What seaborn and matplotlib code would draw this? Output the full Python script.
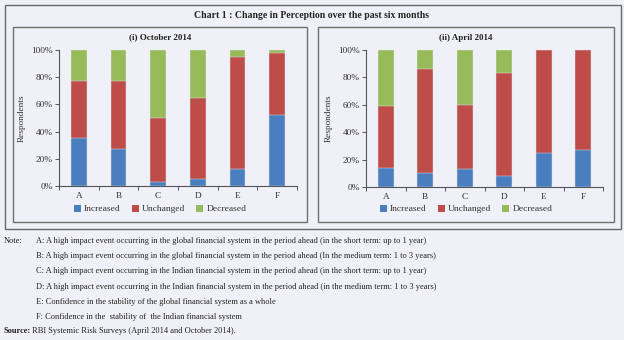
import numpy as np
import pandas as pd
import matplotlib
matplotlib.use("Agg")
import matplotlib.pyplot as plt
import seaborn as sns
from matplotlib.patches import Rectangle, Patch
from matplotlib.ticker import FixedLocator, PercentFormatter

# ---- data ----
categories = ["A", "B", "C", "D", "E", "F"]
oct_increased = [35, 27, 3, 5, 12.5, 52.5]
oct_unchanged = [42, 50, 47, 60, 82.5, 45]
oct_decreased = [23, 23, 50, 35, 5, 2.5]
apr_increased = [14, 10, 13, 8, 25, 27]
apr_unchanged = [45, 76, 47, 75, 75, 73]
apr_decreased = [41, 14, 40, 17, 0, 0]
series_names = ["Increased", "Unchanged", "Decreased"]
panel_titles = ["(i) October 2014", "(ii) April 2014"]
chart_title = "Chart 1 : Change in Perception over the past six months"
notes = [
    "A: A high impact event occurring in the global financial system in the period ahead (in the short term: up to 1 year)",
    "B: A high impact event occurring in the global financial system in the period ahead (In the medium term: 1 to 3 years)",
    "C: A high impact event occurring in the Indian financial system in the period ahead (in the short term: up to 1 year)",
    "D: A high impact event occurring in the Indian financial system in the period ahead (in the medium term: 1 to 3 years)",
    "E: Confidence in the stability of the global financial system as a whole",
    "F: Confidence in the  stability of  the Indian financial system",
]
source_text = "RBI Systemic Risk Surveys (April 2014 and October 2014)."

colors = ["#4a7ebf", "#be4d4a", "#97bb5a"]
BG = "#f0f0f8"
W, H = 624, 340

sns.set_theme(style="white")
plt.rcParams["font.family"] = ["Liberation Serif", "DejaVu Serif"]

fig = plt.figure(figsize=(W / 100, H / 100), dpi=100, facecolor=BG)


def fx(x):
    return x / W


def fy(y):
    return 1 - y / H


def rect_px(x0, y0, x1, y1, ec, lw):
    fig.add_artist(Rectangle((fx(x0), fy(y1)), fx(x1) - fx(x0), fy(y0) - fy(y1),
                             transform=fig.transFigure, fill=False, ec=ec, lw=lw))


# outer frame and panels
rect_px(4.5, 5, 620.5, 229, "#6a6a6a", 1.0)
rect_px(12.5, 27, 307, 222.3, "#707070", 1.0)
rect_px(318, 27, 613.5, 222.3, "#707070", 1.0)

fig.text(fx(312), fy(16), chart_title, ha="center", va="center",
         fontsize=7, fontweight="bold", color="#222222")

panels = [
    dict(inc=oct_increased, unc=oct_unchanged, dec=oct_decreased,
         ax=(59, 50, 297, 186), center=160, title=panel_titles[0]),
    dict(inc=apr_increased, unc=apr_unchanged, dec=apr_decreased,
         ax=(366, 50, 603, 187), center=466, title=panel_titles[1]),
]

for p in panels:
    x0, y0, x1, y1 = p["ax"]
    ax = fig.add_axes([fx(x0), fy(y1), fx(x1) - fx(x0), fy(y0) - fy(y1)])
    ax.set_facecolor(BG)
    inc = np.array(p["inc"], dtype=float)
    unc = np.array(p["unc"], dtype=float)
    dec = np.array(p["dec"], dtype=float)
    df = pd.DataFrame({
        "cat": categories,
        "top": inc + unc + dec,
        "mid": inc + unc,
        "low": inc,
    })
    for col, c in zip(["top", "mid", "low"], colors[::-1]):
        sns.barplot(data=df, x="cat", y=col, color=c, width=0.4, ax=ax,
                    saturation=1, edgecolor="#e8ecf4", linewidth=0.3)
    ax.set_xlim(-0.5, 5.5)
    ax.set_ylim(0, 100)
    ax.set_xlabel("")
    ax.set_ylabel("Respondents", fontsize=6.7, color="#333333", labelpad=4)
    ax.yaxis.set_major_locator(FixedLocator([0, 20, 40, 60, 80, 100]))
    ax.yaxis.set_major_formatter(PercentFormatter(decimals=0))
    for s in ["top", "right"]:
        ax.spines[s].set_visible(False)
    for s in ["left", "bottom"]:
        ax.spines[s].set_color("#555555")
        ax.spines[s].set_linewidth(0.8)
    ax.tick_params(axis="y", which="major", direction="out", length=3, width=0.7,
                   color="#555555", labelsize=6.7, labelcolor="#333333", pad=1.5, left=True)
    ax.tick_params(axis="x", which="major", length=0, labelsize=6.7,
                   labelcolor="#333333", pad=4)
    ax.xaxis.set_minor_locator(FixedLocator(np.arange(-0.5, 6, 1)))
    ax.tick_params(axis="x", which="minor", direction="out", length=3, width=0.7,
                   color="#555555", bottom=True)
    ax.grid(False)
    fig.text(fx(p["center"]), fy(37.5), p["title"], ha="center", va="center",
             fontsize=6.5, fontweight="bold", color="#222222")
    handles = [Patch(facecolor=c, edgecolor="none") for c in colors]
    fig.legend(handles, series_names, loc="center",
               bbox_to_anchor=(fx(p["center"]), fy(209)), ncol=3, frameon=False,
               fontsize=6.8, handlelength=0.75, handleheight=0.75, handletextpad=0.3,
               columnspacing=1.2, borderaxespad=0, labelcolor="#333333")

# notes
y = 241
fig.text(fx(4), fy(y), "Note:", ha="left", va="center", fontsize=6.0, color="#222222")
for line in notes:
    fig.text(fx(36), fy(y), line, ha="left", va="center", fontsize=6.0, color="#222222")
    y += 15.2
fig.text(fx(4), fy(331), "Source:", ha="left", va="center", fontsize=6.0,
         fontweight="bold", color="#222222")
fig.text(fx(32), fy(331), source_text, ha="left", va="center", fontsize=6.0, color="#222222")

fig.savefig("out.png", dpi=100, facecolor=BG)
